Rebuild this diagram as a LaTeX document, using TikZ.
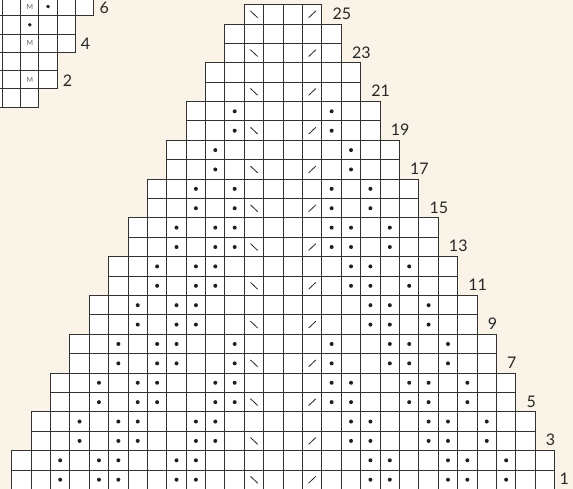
\documentclass[tikz,border=0pt]{standalone}
\usepackage{fontspec}
\setmainfont{Lato}
\definecolor{bg}{RGB}{250,243,231}
\definecolor{ln}{RGB}{50,50,50}
\definecolor{tx}{RGB}{40,40,40}
\definecolor{mc}{RGB}{95,95,95}
\tikzset{
  cell/.style={fill=white, draw=ln, line width=1pt},
  dotc/.style={fill=black!88},
  slash/.style={draw=black!85, line width=0.8pt},
  lab/.style={text=tx, inner sep=0pt, anchor=west, font=\fontsize{16}{16}\selectfont},
  mlab/.style={text=mc, inner sep=0pt, font=\fontsize{7}{7}\selectfont}
}
\begin{document}
\begin{tikzpicture}[x=1pt,y=-1pt]
\useasboundingbox (0,0) rectangle (573,489);
\fill[bg] (0,0) rectangle (573,489);
\begin{scope}
\clip (0,0) rectangle (573,489);
\def\cs{19.39}
\def\xo{11.7}
\def\yb{489.4}
% main chart cells
\foreach \r in {1,...,25}{
  \pgfmathtruncatemacro\k{(\r-1)/2}
  \pgfmathtruncatemacro\cmax{27-\k}
  \pgfmathsetmacro\ytop{\yb-\r*\cs}
  \foreach \c in {\k,...,\cmax}{
    \pgfmathsetmacro\xl{\xo+\c*\cs}
    \filldraw[cell] (\xl,\ytop) rectangle ++(\cs,\cs);
  }
}
% main chart symbols and labels
\foreach \r in {1,...,25}{
  \pgfmathtruncatemacro\k{(\r-1)/2}
  \pgfmathsetmacro\yc{\yb-(\r-0.5)*\cs}
  \foreach \d in {2,4,5,8,9}{
    \pgfmathtruncatemacro\cc{\d+\k}
    \ifnum\cc<12
      \fill[dotc] ({\xo+(\cc+0.5)*\cs},\yc) circle (2pt);
      \fill[dotc] ({\xo+(27-\cc+0.5)*\cs},\yc) circle (2pt);
    \fi
  }
  \ifodd\r
    \draw[slash] ({\xo+12.5*\cs-3.6},{\yc-3.4}) -- ++(7.2,6.8);
    \draw[slash] ({\xo+15.5*\cs-3.6},{\yc+3.4}) -- ++(7.2,-6.8);
    \ifnum\r=1
      \node[lab] (l\r) at ({\xo+(28-\k)*\cs+4.8},{\yc-0.8}) {\r};
    \else
      \node[lab] (l\r) at ({\xo+(28-\k)*\cs+10.5},{\yc-0.8}) {\r};
    \fi
  \fi
}
% inset chart
\def\is{18.32}
\def\ix{2.3}
\def\iyb{107.3}
\foreach \r in {1,...,6}{
  \pgfmathtruncatemacro\cmax{floor(\r/2)+1}
  \pgfmathsetmacro\ytop{\iyb-\r*\is}
  \foreach \c in {-2,...,\cmax}{
    \pgfmathsetmacro\xl{\ix+\c*\is}
    \filldraw[cell] (\xl,\ytop) rectangle ++(\is,\is);
  }
}
\node[mlab] (m2) at ({\ix+1.5*\is},{\iyb-1.5*\is}) {M};
\node[mlab] (m4) at ({\ix+1.5*\is},{\iyb-3.5*\is}) {M};
\node[mlab] (m6) at ({\ix+1.5*\is},{\iyb-5.5*\is}) {M};
\fill[dotc] ({\ix+1.5*\is},{\iyb-4.5*\is}) circle (1.9pt);
\fill[dotc] ({\ix+2.5*\is},{\iyb-5.5*\is}) circle (1.9pt);
\node[lab] (i2) at ({\ix+3*\is+5.5},{\iyb-1.5*\is+0.8}) {2};
\node[lab] (i4) at ({\ix+4*\is+5.0},{\iyb-3.5*\is+0.8}) {4};
\node[lab] (i6) at ({\ix+5*\is+5.5},{\iyb-5.5*\is+0.8}) {6};
\end{scope}
\end{tikzpicture}
\end{document}
